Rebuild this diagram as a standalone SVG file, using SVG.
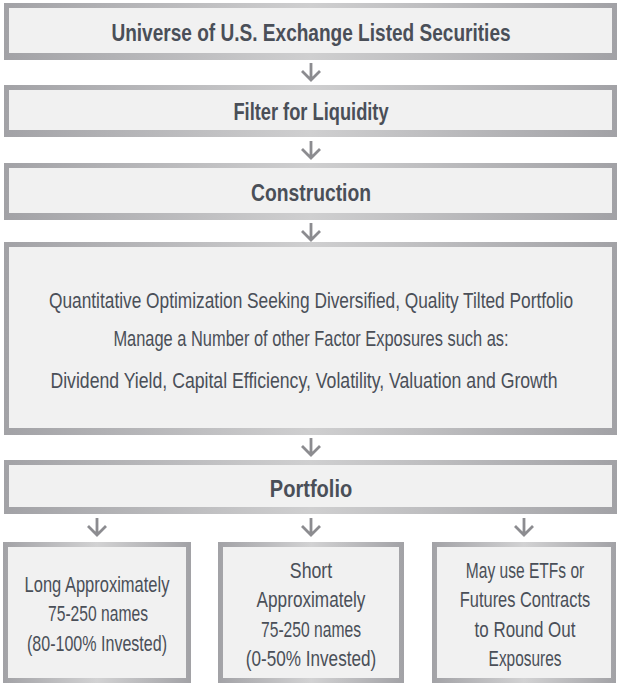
<svg xmlns="http://www.w3.org/2000/svg" width="618" height="683" viewBox="0 0 618 683">
<defs>
<linearGradient id="bd" x1="0" y1="0" x2="1" y2="0">
<stop offset="0" stop-color="#a2a2a6"/>
<stop offset="0.5" stop-color="#cfcfd0"/>
<stop offset="1" stop-color="#a2a2a6"/>
</linearGradient>
<linearGradient id="bs" x1="0" y1="0" x2="1" y2="0">
<stop offset="0" stop-color="#a2a2a6"/>
<stop offset="0.5" stop-color="#d2d2d3"/>
<stop offset="1" stop-color="#a2a2a6"/>
</linearGradient>
</defs>
<style>
.o{fill:url(#bd)}
.os{fill:url(#bs)}
.i{fill:#f1f1f1}
.t{font-family:"Liberation Sans",Arial,sans-serif;font-size:24px;font-weight:bold;fill:#4a4f58;text-anchor:middle}
.b{font-family:"Liberation Sans",Arial,sans-serif;font-size:21.5px;fill:#4a4f58;text-anchor:middle}
.a{fill:none;stroke:#8c8c90;stroke-width:2.8;stroke-linecap:butt}
</style>
<g id="connectors">
<path class="a" d="M311,63V80M302,71L311,80L320,71"/>
<path class="a" d="M311,141V158M302,149L311,158L320,149"/>
<path class="a" d="M311,223V240M302,231L311,240L320,231"/>
<path class="a" d="M311,438V455M302,446L311,455L320,446"/>
<path class="a" d="M97,518V535M88,526L97,535L106,526"/>
<path class="a" d="M311,518V535M302,526L311,535L320,526"/>
<path class="a" d="M524,518V535M515,526L524,535L533,526"/>
</g>
<g id="universe">
<rect class="o" x="4" y="3" width="613" height="57"/>
<rect class="i" x="9" y="8" width="603" height="45"/>
<text class="t" transform="translate(311,41) scale(0.8,1)" textLength="499" lengthAdjust="spacingAndGlyphs">Universe of U.S. Exchange Listed Securities</text>
</g>
<g id="filter">
<rect class="o" x="4" y="85" width="613" height="52"/>
<rect class="i" x="9" y="90" width="603" height="40"/>
<text class="t" transform="translate(311,120) scale(0.8,1)" textLength="194" lengthAdjust="spacingAndGlyphs">Filter for Liquidity</text>
</g>
<g id="construction">
<rect class="o" x="4" y="163" width="613" height="57"/>
<rect class="i" x="9" y="168" width="603" height="45"/>
<text class="t" transform="translate(311,201) scale(0.8,1)" textLength="150" lengthAdjust="spacingAndGlyphs">Construction</text>
</g>
<g id="optimization">
<rect class="o" x="4" y="242" width="613" height="193"/>
<rect class="i" x="9" y="247" width="603" height="181"/>
<text class="b" transform="translate(311,308) scale(0.8,1)" textLength="655" lengthAdjust="spacingAndGlyphs">Quantitative Optimization Seeking Diversified, Quality Tilted Portfolio</text>
<text class="b" transform="translate(311,346) scale(0.8,1)" textLength="494" lengthAdjust="spacingAndGlyphs">Manage a Number of other Factor Exposures such as:</text>
<text class="b" transform="translate(304,388) scale(0.8,1)" textLength="634" lengthAdjust="spacingAndGlyphs">Dividend Yield, Capital Efficiency, Volatility, Valuation and Growth</text>
</g>
<g id="portfolio">
<rect class="o" x="4" y="460" width="613" height="54"/>
<rect class="i" x="9" y="465" width="603" height="42"/>
<text class="t" transform="translate(311,497) scale(0.8,1)" textLength="103" lengthAdjust="spacingAndGlyphs">Portfolio</text>
</g>
<g id="long">
<rect class="os" x="3" y="542" width="188" height="141"/>
<rect class="i" x="8" y="547" width="178" height="131"/>
<text class="b" transform="translate(97,592) scale(0.8,1)" textLength="181" lengthAdjust="spacingAndGlyphs">Long Approximately</text>
<text class="b" transform="translate(98,621) scale(0.8,1)" textLength="125" lengthAdjust="spacingAndGlyphs">75-250 names</text>
<text class="b" transform="translate(97,651) scale(0.8,1)" textLength="175" lengthAdjust="spacingAndGlyphs">(80-100% Invested)</text>
</g>
<g id="short">
<rect class="os" x="218" y="542" width="186" height="141"/>
<rect class="i" x="223" y="547" width="176" height="131"/>
<text class="b" transform="translate(311,578) scale(0.8,1)" textLength="53" lengthAdjust="spacingAndGlyphs">Short</text>
<text class="b" transform="translate(311,607) scale(0.8,1)" textLength="136" lengthAdjust="spacingAndGlyphs">Approximately</text>
<text class="b" transform="translate(311,637) scale(0.8,1)" textLength="125" lengthAdjust="spacingAndGlyphs">75-250 names</text>
<text class="b" transform="translate(311,666) scale(0.8,1)" textLength="163" lengthAdjust="spacingAndGlyphs">(0-50% Invested)</text>
</g>
<g id="etfs">
<rect class="os" x="432" y="542" width="184" height="141"/>
<rect class="i" x="437" y="547" width="174" height="131"/>
<text class="b" transform="translate(525,578) scale(0.8,1)" textLength="148" lengthAdjust="spacingAndGlyphs">May use ETFs or</text>
<text class="b" transform="translate(525,607) scale(0.8,1)" textLength="163" lengthAdjust="spacingAndGlyphs">Futures Contracts</text>
<text class="b" transform="translate(525,637) scale(0.8,1)" textLength="126" lengthAdjust="spacingAndGlyphs">to Round Out</text>
<text class="b" transform="translate(525,666) scale(0.8,1)" textLength="91" lengthAdjust="spacingAndGlyphs">Exposures</text>
</g>
</svg>
